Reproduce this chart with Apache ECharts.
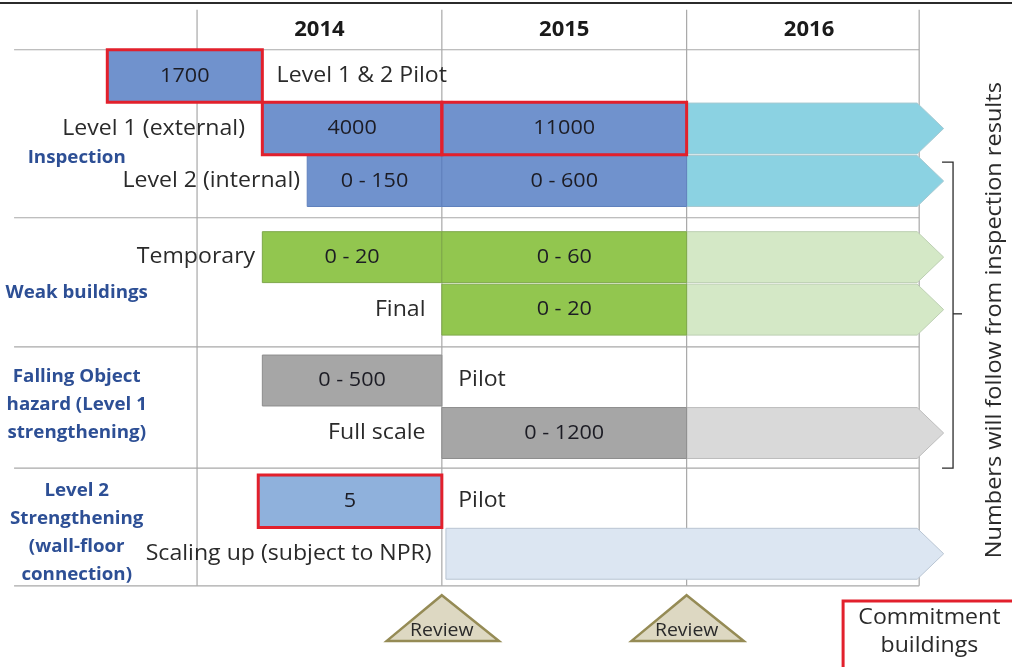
<!DOCTYPE html>
<html>
<head>
<meta charset="utf-8">
<title>Inspection and strengthening programme 2014-2016</title>
<script src="https://cdn.jsdelivr.net/npm/echarts@6/dist/echarts.min.js"></script>
<style>
  html, body { margin: 0; padding: 0; background: #fff; }
  #chart { width: 1012px; height: 667px; }
</style>
</head>
<body>
<div id="chart"></div>
<script>
// x runs in months from January 2014, y runs in lanes from the top (lane 1 = first row)
const years = ['2014', '2015', '2016'];
const yearStart = [0, 12, 24];
const tableEnd = 35.4;

// bars with a number of buildings
const barLane   = [1, 2, 2, 3, 3, 4.45, 4.45, 5.45, 6.8, 7.8, 9.1];
const barStart  = [-4.4, 3.2, 12, 5.4, 12, 3.2, 12, 12, 3.2, 12, 3.0];
const barEnd    = [3.2, 12, 24, 12, 24, 12, 24, 24, 12, 24, 12];
const barLabels = ['1700', '4000', '11000', '0 - 150', '0 - 600', '0 - 20', '0 - 60', '0 - 20', '0 - 500', '0 - 1200', '5'];
const barGroup  = ['insp', 'insp', 'insp', 'insp', 'insp', 'weak', 'weak', 'weak', 'fall', 'fall', 'lvl2'];
const commitment = ['1700', '4000', '11000', '5'];

// open-ended continuation (numbers follow from inspection results)
const arrowLane  = [2, 3, 4.45, 5.45, 7.8, 10.1];
const arrowStart = [24, 24, 24, 24, 24, 12.2];
const arrowGroup = ['insp', 'insp', 'weak', 'weak', 'fall', 'lvl2'];
const arrowTip = 36.6;

// row captions
const rowLabels = ['Level 1 & 2 Pilot', 'Level 1 (external)', 'Level 2 (internal)', 'Temporary', 'Final',
                   'Pilot', 'Full scale', 'Pilot', 'Scaling up (subject to NPR)'];
const rowLane   = [1, 2, 3, 4.45, 5.45, 6.8, 7.8, 9.1, 10.1];
const rowAt     = [3.9, 2.35, 5.05, 2.85, 11.2, 12.8, 11.2, 12.8, 11.5];
const rowSide   = ['left', 'right', 'right', 'right', 'right', 'left', 'right', 'left', 'right'];

// programme groups
const groupLabels = ['Inspection', 'Weak buildings', 'Falling Object\nhazard (Level 1\nstrengthening)',
                     'Level 2\nStrengthening\n(wall-floor\nconnection)'];
const groupLane = [2.56, 5.13, 7.27, 9.71];

const reviewAt = [12, 24];
const sepLanes = [0.5, 3.7, 6.16, 8.47, 10.71];

const FONT = '"Open Sans", Lato, sans-serif';
const colors = {
  insp: { fill: '#7092cd', stroke: '#5f80bd', arrow: '#8bd2e2', arrowStroke: '#a7c9d1' },
  weak: { fill: '#92c64f', stroke: '#7ea84a', arrow: '#d4e8c6', arrowStroke: '#bccfb2' },
  fall: { fill: '#a6a6a6', stroke: '#8d8d8d', arrow: '#d9d9d9', arrowStroke: '#bdbdbd' },
  lvl2: { fill: '#8fb1dc', stroke: '#7a9dcb', arrow: '#dce6f2', arrowStroke: '#b9c5d3' }
};

function box(api, x0, x1, lane, h) {
  const a = api.coord([x0, lane]);
  const b = api.coord([x1, lane]);
  const hh = api.size([0, h])[1];
  return { x: a[0], y: a[1] - hh / 2, width: b[0] - a[0], height: hh };
}

// the source picture is a little stretched sideways, so text is widened too
function text(api, x, lane, str, style, stretch) {
  const p = api.coord([x, lane]);
  return {
    type: 'text', x: p[0], y: p[1], scaleX: stretch || 1.1,
    style: Object.assign({ text: str, font: '21px ' + FONT, fill: '#2a2a2a',
      align: 'center', verticalAlign: 'middle', textAlign: 'center', textVerticalAlign: 'middle' }, style)
  };
}

const chart = echarts.init(document.getElementById('chart'));

const option = {
  animation: false,
  grid: { left: 0, right: 0, top: 0, bottom: 0 },
  xAxis: { type: 'value', min: -9.66, max: 39.95, show: false },
  yAxis: { type: 'value', min: -0.448, max: 12.257, inverse: true, show: false },
  series: [
    {
      // table rules
      type: 'custom', z: 1, silent: true,
      data: [[0]],
      renderItem: (params, api) => {
        const children = [];
        const top = api.coord([-9.66, -0.39]);
        children.push({ type: 'line', shape: { x1: 0, y1: top[1], x2: 1012, y2: top[1] },
          style: { stroke: '#2b2b2b', lineWidth: 2 } });
        sepLanes.forEach(l => {
          const a = api.coord([-8.97, l]), b = api.coord([tableEnd, l]);
          children.push({ type: 'line', shape: { x1: a[0], y1: a[1], x2: b[0], y2: b[1] },
            style: { stroke: '#a8a8a8', lineWidth: 1.2 } });
        });
        yearStart.concat([tableEnd]).forEach(m => {
          const a = api.coord([m, -0.26]), b = api.coord([m, 10.71]);
          children.push({ type: 'line', shape: { x1: a[0], y1: a[1], x2: b[0], y2: b[1] },
            style: { stroke: '#a8a8a8', lineWidth: 1.2 } });
        });
        return { type: 'group', children };
      }
    },
    {
      // year headers
      type: 'custom', z: 4, silent: true,
      data: years.map((y, i) => [yearStart[i] + 6, 0.12]),
      renderItem: (params, api) =>
        text(api, api.value(0), api.value(1), years[params.dataIndex],
          { font: 'bold 21px ' + FONT, fill: '#1a1a1a' }, 1.05)
    },
    {
      // continuation arrows
      type: 'custom', z: 2, silent: true,
      data: arrowLane.map((l, i) => [arrowStart[i], l]),
      renderItem: (params, api) => {
        const c = colors[arrowGroup[params.dataIndex]];
        const r = box(api, api.value(0), tableEnd - 0.1, api.value(1), 0.97);
        const tip = api.coord([arrowTip, api.value(1)]);
        return {
          type: 'polygon',
          shape: { points: [[r.x, r.y], [r.x + r.width, r.y], [tip[0], tip[1]],
                            [r.x + r.width, r.y + r.height], [r.x, r.y + r.height]] },
          style: { fill: c.arrow, stroke: c.arrowStroke, lineWidth: 1 }
        };
      }
    },
    {
      // bars with numbers
      type: 'custom', z: 3, silent: true,
      data: barLane.map((l, i) => [barStart[i], l, barEnd[i]]),
      renderItem: (params, api) => {
        const i = params.dataIndex;
        const c = colors[barGroup[i]];
        const r = box(api, api.value(0), api.value(2), api.value(1), 0.97);
        const mid = (api.value(0) + api.value(2)) / 2;
        return {
          type: 'group',
          children: [
            { type: 'rect', shape: r, style: { fill: c.fill, stroke: c.stroke, lineWidth: 1 } },
            text(api, mid, api.value(1), barLabels[i], { font: '20px ' + FONT, fill: '#1c1c24' }, 1.08)
          ]
        };
      }
    },
    {
      // commitment outlines
      type: 'custom', z: 5, silent: true,
      data: barLabels.map((b, i) => [barStart[i], barLane[i], barEnd[i]])
        .filter((d, i) => commitment.includes(barLabels[i])),
      renderItem: (params, api) => {
        const r = box(api, api.value(0), api.value(2), api.value(1), 1.0);
        return { type: 'rect', shape: r, style: { fill: 'none', stroke: '#e2202c', lineWidth: 3 } };
      }
    },
    {
      // row captions
      type: 'custom', z: 4, silent: true,
      data: rowLane.map((l, i) => [rowAt[i], l]),
      renderItem: (params, api) =>
        text(api, api.value(0), api.value(1), rowLabels[params.dataIndex],
          { align: rowSide[params.dataIndex], textAlign: rowSide[params.dataIndex] })
    },
    {
      // programme group captions
      type: 'custom', z: 4, silent: true,
      data: groupLane.map(l => [-5.9, l]),
      renderItem: (params, api) =>
        text(api, api.value(0), api.value(1), groupLabels[params.dataIndex],
          { font: 'bold 17.5px ' + FONT, fill: '#2d4f95', lineHeight: 28 }, 1.07)
    },
    {
      // review milestones
      type: 'custom', z: 4, silent: true,
      data: reviewAt.map(m => [m]),
      renderItem: (params, api) => {
        const m = api.value(0);
        const apex = api.coord([m, 10.89]);
        const l = api.coord([m - 2.7, 11.76]);
        const r = api.coord([m + 2.8, 11.76]);
        return {
          type: 'group',
          children: [
            { type: 'polygon', shape: { points: [[apex[0], apex[1]], [r[0], r[1]], [l[0], l[1]]] },
              style: { fill: '#ddd8c2', stroke: '#958b55', lineWidth: 2.5 } },
            text(api, m, 11.57, 'Review', { font: '18px ' + FONT, fill: '#2a2a2a' }, 1.08)
          ]
        };
      }
    },
    {
      // brace and note on the right
      type: 'custom', z: 4, silent: true,
      data: [[37.06, 5.53]],
      renderItem: (params, api) => {
        const p = (x, y) => api.coord([x, y]);
        return {
          type: 'group',
          children: [
            { type: 'polyline',
              shape: { points: [p(36.52, 2.64), p(37.06, 2.64), p(37.06, 8.47), p(36.52, 8.47)] },
              style: { stroke: '#2b2b2b', lineWidth: 1.3, fill: 'none' } },
            { type: 'polyline', shape: { points: [p(37.06, 5.53), p(37.5, 5.53)] },
              style: { stroke: '#2b2b2b', lineWidth: 1.3, fill: 'none' } },
            Object.assign(text(api, 39.1, 5.65, 'Numbers will follow from inspection results',
              { font: '21px ' + FONT, fill: '#2a2a2a' }, 1.12), { rotation: Math.PI / 2 })
          ]
        };
      }
    },
    {
      // key
      type: 'custom', z: 4, silent: true,
      data: [[31.67, 11.0]],
      renderItem: (params, api) => {
        const a = api.coord([31.67, 11.0]);
        const b = api.coord([40.5, 12.4]);
        return {
          type: 'group',
          children: [
            { type: 'rect', shape: { x: a[0], y: a[1], width: b[0] - a[0], height: b[1] - a[1] },
              style: { fill: '#fff', stroke: '#e2202c', lineWidth: 3 } },
            text(api, 35.9, 11.33, 'Commitment'),
            text(api, 35.9, 11.86, 'buildings')
          ]
        };
      }
    }
  ]
};

chart.setOption(option);
</script>
</body>
</html>
